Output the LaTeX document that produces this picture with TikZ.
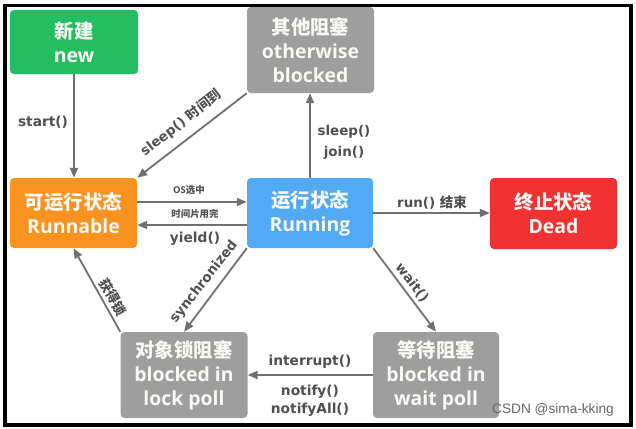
\documentclass[tikz,border=0pt]{standalone}
\usepackage{fontspec}
\setmainfont{Open Sans}
\newfontfamily\cjk{Noto Sans CJK SC}
\newfontfamily\lblfont{DejaVu Sans}
\newfontfamily\wmfont{Liberation Sans}
\usetikzlibrary{arrows.meta,calc}
\definecolor{cgreen}{RGB}{34,190,96}
\definecolor{cgray}{RGB}{158,158,158}
\definecolor{corange}{RGB}{247,147,30}
\definecolor{cblue}{RGB}{82,170,245}
\definecolor{cred}{RGB}{240,50,50}
\definecolor{ctext}{RGB}{248,248,244}
\definecolor{carrow}{RGB}{112,112,112}
\definecolor{clabel}{RGB}{80,80,80}
\begin{document}
\begin{tikzpicture}[x=1bp,y=-1bp,
  stbox/.style={rounded corners=4bp, text=ctext, align=center, inner sep=0pt,
    font=\bfseries\fontsize{19.5}{24}\selectfont},
  arr/.style={draw=carrow, line width=1.8bp, -{Triangle[length=10bp,width=8bp]}},
  lbl/.style={text=clabel, inner sep=0pt, align=center, font=\lblfont\bfseries\fontsize{13.8}{18}\selectfont},
  slbl/.style={text=clabel, inner sep=0pt, align=center, font=\lblfont\bfseries\fontsize{13.5}{16}\selectfont},
  tlbl/.style={text=clabel, inner sep=0pt, align=center, font=\bfseries\fontsize{9.5}{11}\selectfont}]
\useasboundingbox (0,0) rectangle (636,428);
\fill[white] (0,0) rectangle (636,428);
\draw[line width=3.5bp] (4.8,5.5) rectangle (631,425);

\node[stbox, fill=cgreen, minimum width=128bp, minimum height=64bp] (new) at (74,42) {{\cjk 新建}\\new};
\node[stbox, fill=cgray, minimum width=127bp, minimum height=86bp] (other) at (310.5,50) {{\cjk 其他阻塞}\\otherwise\\blocked};
\node[stbox, fill=corange, minimum width=127bp, minimum height=70bp] (runnable) at (73.5,213) {{\cjk 可运行状态}\\Runnable};
\node[stbox, fill=cblue, minimum width=126bp, minimum height=70bp] (running) at (310,213) {{\cjk 运行状态}\\Running};
\node[stbox, fill=cred, minimum width=127bp, minimum height=71bp] (dead) at (553.5,213.5) {{\cjk 终止状态}\\Dead};
\node[stbox, fill=cgray, minimum width=127bp, minimum height=86bp] (lock) at (184,375) {{\cjk 对象锁阻塞}\\blocked in\\lock poll};
\node[stbox, fill=cgray, minimum width=126bp, minimum height=86bp] (wait) at (436,375) {{\cjk 等待阻塞}\\blocked in\\wait poll};

\draw[arr] (new.south) -- (new.south |- runnable.north);
\draw[arr] (other.south west) -- (runnable.north east);
\draw[arr] (running.north) -- (running.north |- other.south);
\draw[arr] ($(runnable.east)+(0,-11)$) -- ($(running.west)+(0,-11)$);
\draw[arr] ($(running.west)+(0,12)$) -- ($(runnable.east)+(0,12)$);
\draw[arr] (running.east) -- (dead.west |- running.east);
\draw[arr] (running.south west) -- (lock.north);
\draw[arr] (lock.north west) -- (runnable.south);
\draw[arr] (running.south east) -- (wait.north);
\draw[arr] (wait.west) -- (lock.east);

\node[lbl] (lstart) at (43,122) {start()};
\node[slbl, rotate=37.7] (lsleep) at (181,123) {sleep() {\cjk 时间到}};
\node[lbl, font=\lblfont\bfseries\fontsize{13.5}{21}\selectfont] (lsj) at (344,142) {sleep()\\join()};
\node[tlbl] (los) at (189,190) {OS{\cjk 选中}};
\node[tlbl] (ltime) at (195,214) {\cjk 时间片用完};
\node[lbl] (lyield) at (195,239) {yield()};
\node[slbl] (lrun) at (432,203) {run() {\cjk 结束}};
\node[slbl, rotate=52] (lsync) at (204,282) {synchronized};
\node[slbl, rotate=-60] (lget) at (113,297) {\cjk 获得锁};
\node[slbl, rotate=-52] (lwait) at (412,283) {wait()};
\node[lbl] (lint) at (310,362) {interrupt()};
\node[lbl] (lnot) at (310,401) {notify()\\notifyAll()};

\node[text=black!60, inner sep=0pt, font=\wmfont\fontsize{13.7}{16}\selectfont] (wm) at (553,410) {CSDN @sima-kking};
\end{tikzpicture}
\end{document}
